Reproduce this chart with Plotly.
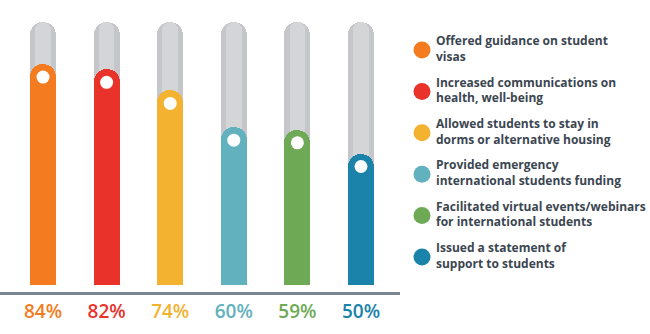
import plotly.graph_objects as go

# ---- data ----
categories = [
    "Offered guidance on student<br>visas",
    "Increased communications on<br>health, well-being",
    "Allowed students to stay in<br>dorms or alternative housing",
    "Provided emergency<br>international students funding",
    "Facilitated virtual events/webinars<br>for international students",
    "Issued a statement of<br>support to students",
]
values = [84, 82, 74, 60, 59, 50]
tick_labels = ["84%", "82%", "74%", "60%", "59%", "50%"]
colors = ["#f47b20", "#e8322a", "#f3b22f", "#62b1be", "#6eaa55", "#1b82aa"]

# ---- layout constants ----
W, H = 650, 334
plot_w = 400          # width of bar area in px
plot_h = 292          # height of bar area in px (axis line at bottom)
px_per_unit = 2.63    # vertical px per percentage point
bar_px = 26
cat_px = 63.6
x_left = -43 / cat_px
x_right = (plot_w - 43) / cat_px
y_min = -7 / px_per_unit
y_max = y_min + plot_h / px_per_unit
bar_w = bar_px / cat_px
dot_off = (bar_px / 2) / px_per_unit

n = len(values)
xs = list(range(n))

fig = go.Figure()

# gray track (outer, darker edges)
fig.add_trace(go.Bar(x=xs, y=[100] * n, width=bar_w, marker=dict(color="#c4c6c9", cornerradius="50%", line_width=0),
                     hoverinfo="skip", showlegend=False, yaxis="y"))
# gray track highlight
fig.add_trace(go.Bar(x=xs, y=[100] * n, width=bar_w * 0.6, marker=dict(color="#d4d5d7", cornerradius="50%", line_width=0),
                     hoverinfo="skip", showlegend=False, yaxis="y3"))
# colored bars
fig.add_trace(go.Bar(x=xs, y=values, width=bar_w, marker=dict(color=colors, cornerradius="50%", line_width=0),
                     showlegend=False, yaxis="y4"))
# white dots
fig.add_trace(go.Scatter(x=xs, y=[v - dot_off for v in values], mode="markers", yaxis="y4",
                         marker=dict(color="white", size=13, line_width=0), hoverinfo="skip", showlegend=False))

# legend (drawn on second axes, 1 unit = 1 px)
item_y0, item_step = 50, 41.4
leg_y = [item_y0 + item_step * i for i in range(n)]
fig.add_trace(go.Scatter(x=[22] * n, y=leg_y, mode="markers", xaxis="x2", yaxis="y2",
                         marker=dict(color=colors, size=17, line_width=0), hoverinfo="skip", showlegend=False))
legfont = dict(family="Open Sans", size=12, color="#3b4651", weight=700)
fig.add_trace(go.Scatter(x=[36] * n, y=leg_y, mode="text", text=categories,
                         textposition="middle right", textfont=legfont, xaxis="x2", yaxis="y2",
                         hoverinfo="skip", showlegend=False))

ticktext = [f"<span style='color:{c}'>{t}</span>" for c, t in zip(colors, tick_labels)]

yax_common = dict(range=[y_min, y_max], visible=False, fixedrange=True)

fig.update_layout(
    width=W, height=H,
    margin=dict(l=0, r=0, t=0, b=H - plot_h),
    paper_bgcolor="white", plot_bgcolor="white",
    barmode="overlay", bargap=0,
    showlegend=False,
    xaxis=dict(domain=[0, plot_w / W], range=[x_left, x_right], tickvals=xs, ticktext=ticktext,
               showgrid=False, zeroline=False, showline=True, linecolor="#7c8690", linewidth=3,
               ticks="", tickfont=dict(family="Open Sans", size=19, weight=600), fixedrange=True),
    yaxis=yax_common,
    yaxis3=dict(yax_common, overlaying="y"),
    yaxis4=dict(yax_common, overlaying="y"),
    xaxis2=dict(domain=[plot_w / W, 1], range=[0, W - plot_w], visible=False, anchor="y2"),
    yaxis2=dict(domain=[0, 1], range=[plot_h, 0], visible=False, anchor="x2"),
)

fig.write_html("out.html")
